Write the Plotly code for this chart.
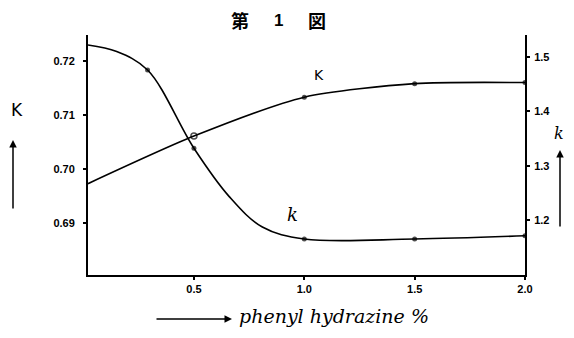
import plotly.graph_objects as go

# Data
x_K = [0.02, 0.5, 1.0, 1.5, 2.0]
K_vals = [0.6973, 0.7061, 0.7133, 0.7158, 0.7160]
K_marker = [0, 6, 5, 5, 5]
K_symbols = ["circle", "circle-open", "circle", "circle", "circle"]
K_mline = [0, 1.5, 0, 0, 0]

x_k = [0.02, 0.15, 0.29, 0.5, 0.66, 0.81, 1.0, 1.5, 2.0]
k_vals = [1.522, 1.510, 1.476, 1.332, 1.243, 1.187, 1.165, 1.165, 1.171]
k_marker = [0, 0, 5, 5, 0, 0, 5, 5, 5]

x_ticks = [0.5, 1.0, 1.5, 2.0]
x_ticktext = ["0.5", "1.0", "1.5", "2.0"]
K_ticks = [0.69, 0.70, 0.71, 0.72]
K_ticktext = ["0.69", "0.70", "0.71", "0.72"]
k_ticks = [1.2, 1.3, 1.4, 1.5]
k_ticktext = ["1.2", "1.3", "1.4", "1.5"]

fig = go.Figure()
fig.add_trace(go.Scatter(
    x=x_K, y=K_vals, mode="lines+markers",
    line=dict(color="black", width=1.6, shape="spline", smoothing=0.7),
    marker=dict(color="black", size=K_marker, symbol=K_symbols,
                line=dict(width=K_mline, color="black")),
    yaxis="y", showlegend=False))
fig.add_trace(go.Scatter(
    x=x_k, y=k_vals, mode="lines+markers",
    line=dict(color="black", width=1.6, shape="spline", smoothing=1.0),
    marker=dict(color="black", size=k_marker, line=dict(width=0)),
    yaxis="y2", showlegend=False))

tickfont = dict(family="Liberation Sans", size=11, color="black", weight="bold")
# the page adds an 8 px body margin; the figure is sized so it fits the window
fig.update_layout(
    width=558, height=322,
    margin=dict(l=80, r=41, t=27, b=55),
    paper_bgcolor="white", plot_bgcolor="white",
    xaxis=dict(range=[0.02, 2.0], tickvals=x_ticks, ticktext=x_ticktext,
               showline=True, linecolor="black", linewidth=2, ticks="outside",
               ticklen=3, tickwidth=1.5, tickcolor="black", showgrid=False,
               zeroline=False, tickfont=tickfont, ticklabelstandoff=0),
    yaxis=dict(range=[0.6804, 0.7248], tickvals=K_ticks, ticktext=K_ticktext,
               showline=True, linecolor="black", linewidth=2, ticks="outside",
               ticklen=3, tickwidth=1.5, tickcolor="black", showgrid=False,
               zeroline=False, tickfont=tickfont, ticklabelstandoff=6),
    yaxis2=dict(range=[1.0987, 1.5405], tickvals=k_ticks, ticktext=k_ticktext,
                overlaying="y", side="right",
                showline=True, linecolor="black", linewidth=2, ticks="outside",
                ticklen=3, tickwidth=1.5, tickcolor="black", showgrid=False,
                zeroline=False, tickfont=tickfont, ticklabelstandoff=2),
)

# plot area on the page: x 88..525, y 35..275
PX0, PX1, PY0, PY1 = 88.0, 525.0, 35.0, 275.0


def px(x):
    return (x - PX0) / (PX1 - PX0)


def py(y):
    return (PY1 - y) / (PY1 - PY0)


cjk = dict(family="Noto Sans CJK JP", size=18, color="black")
anns = [
    dict(text="<b>第</b>", x=240, y=20, font=cjk),
    dict(text="<b>1</b>", x=278, y=20, font=dict(family="Liberation Sans", size=17, color="black")),
    dict(text="<b>図</b>", x=317, y=20, font=cjk),
    dict(text="K", x=17, y=110, font=dict(family="DejaVu Sans", size=17, color="black")),
    dict(text="K", x=319, y=75, font=dict(family="DejaVu Sans", size=14, color="black")),
    dict(text="<i>k</i>", x=292, y=214, font=dict(family="DejaVu Serif", size=18, color="black")),
    dict(text="<i>k</i>", x=559, y=133, font=dict(family="DejaVu Serif", size=16, color="black")),
    dict(text="<i>phenyl hydrazine %</i>", x=334, y=316,
         font=dict(family="DejaVu Serif", size=19, color="black")),
]
for a in anns:
    fig.add_annotation(text=a["text"], x=px(a["x"]), y=py(a["y"]),
                       xref="paper", yref="paper", showarrow=False,
                       xanchor="center", yanchor="middle", font=a["font"])

# arrows: (tail), (head) in page pixel coords
arrows = [
    ((13, 210), (13, 140)),
    ((560, 228), (560, 150)),
    ((155, 319), (232, 319)),
]
for (x0, y0), (x1, y1) in arrows:
    fig.add_annotation(x=px(x1), y=py(y1), ax=x0 - x1, ay=y0 - y1,
                       xref="paper", yref="paper", axref="pixel", ayref="pixel",
                       text="", showarrow=True, arrowhead=2, arrowsize=1,
                       arrowwidth=1.5, arrowcolor="black")

fig.write_html("out.html")
